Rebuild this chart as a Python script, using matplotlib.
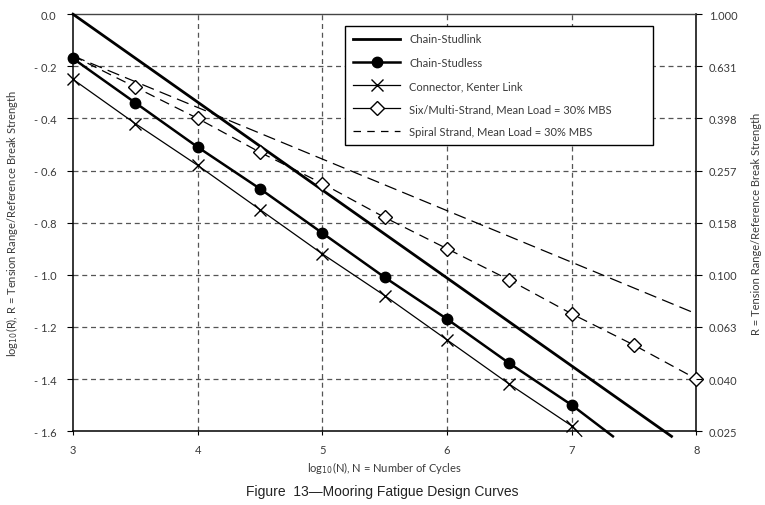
import matplotlib
matplotlib.use("Agg")
import matplotlib.pyplot as plt
from matplotlib.lines import Line2D

plt.rcParams['font.family'] = ['Lato', 'DejaVu Sans']

# ---- data ----
studlink_x = [3.0, 7.8]
studlink_y = [0.0, -1.62]

studless_x = [3.0, 3.5, 4.0, 4.5, 5.0, 5.5, 6.0, 6.5, 7.0]
studless_y = [-0.17, -0.34, -0.51, -0.67, -0.84, -1.01, -1.17, -1.34, -1.50]
studless_end = [7.33, -1.62]

kenter_x = [3.0, 3.5, 4.0, 4.5, 5.0, 5.5, 6.0, 6.5, 7.0]
kenter_y = [-0.25, -0.42, -0.58, -0.75, -0.92, -1.08, -1.25, -1.42, -1.58]
kenter_end = [7.08, -1.62]

multi_x = [3.5, 4.0, 4.5, 5.0, 5.5, 6.0, 6.5, 7.0, 7.5, 8.0]
multi_y = [-0.28, -0.40, -0.53, -0.65, -0.78, -0.90, -1.02, -1.15, -1.27, -1.40]
multi_start = [3.0, -0.16]

spiral_x = [3.0, 8.0]
spiral_y = [-0.16, -1.15]

left_ticks = [0.0, -0.2, -0.4, -0.6, -0.8, -1.0, -1.2, -1.4, -1.6]
left_labels = ["0.0", "- 0.2", "- 0.4", "- 0.6", "- 0.8", "- 1.0", "- 1.2", "- 1.4", "- 1.6"]
right_labels = ["1.000", "0.631", "0.398", "0.257", "0.158", "0.100", "0.063", "0.040", "0.025"]
x_ticks = [3, 4, 5, 6, 7, 8]

labels = ["Chain-Studlink", "Chain-Studless", "Connector, Kenter Link",
          "Six/Multi-Strand, Mean Load = 30% MBS", "Spiral Strand, Mean Load = 30% MBS"]

txt = '#3a3a3a'

fig = plt.figure(figsize=(7.65, 5.06), dpi=100)
ax = fig.add_axes([0.0954, 0.146, 0.815, 0.824])
ax.set_xlim(3, 8)
ax.set_ylim(-1.6, 0.0)

# grid
for x in x_ticks[1:-1]:
    ax.axvline(x, color='#555555', lw=0.9, ls=(0, (4, 3)), zorder=1)
for y in left_ticks[1:-1]:
    ax.axhline(y, color='#555555', lw=0.9, ls=(0, (4, 3)), zorder=1)

# curves
ax.plot(studlink_x, studlink_y, color='black', lw=2.0, clip_on=False, zorder=4)
ax.plot(studless_x + [studless_end[0]], studless_y + [studless_end[1]], color='black', lw=1.8,
        clip_on=False, zorder=4)
ax.plot(studless_x, studless_y, ls='none', marker='o', ms=7.5, color='black', clip_on=False, zorder=5)
ax.plot(kenter_x + [kenter_end[0]], kenter_y + [kenter_end[1]], color='black', lw=0.9,
        clip_on=False, zorder=4)
ax.plot(kenter_x, kenter_y, ls='none', marker='x', ms=9, mew=1.0, color='black', clip_on=False, zorder=5)
ax.plot([multi_start[0]] + multi_x, [multi_start[1]] + multi_y, color='black', lw=0.9,
        ls=(0, (8, 5)), zorder=3)
ax.plot(multi_x, multi_y, ls='none', marker='D', ms=7, mew=1.0, mfc='white', mec='black',
        clip_on=False, zorder=5)
ax.plot(spiral_x, spiral_y, color='black', lw=0.9, ls=(0, (10, 5)), zorder=3)

# axes styling
for s in ['left', 'right', 'bottom']:
    ax.spines[s].set_linewidth(1.1)
ax.spines['top'].set_linewidth(1.0)
ax.spines['top'].set_color('#444444')

ax.set_xticks(x_ticks)
ax.set_xticklabels([str(x) for x in x_ticks], color=txt, fontsize=8)
ax.set_yticks(left_ticks)
ax.set_yticklabels(left_labels, color=txt, fontsize=8)
ax.tick_params(axis='y', direction='out', length=4, width=0.8, pad=8)
ax.tick_params(axis='x', direction='out', length=3, width=0.8, pad=6)

ax2 = ax.twinx()
ax2.set_ylim(-1.6, 0.0)
ax2.set_yticks(left_ticks)
ax2.set_yticklabels(right_labels, color=txt, fontsize=8)
ax2.tick_params(axis='y', direction='out', length=4, width=0.8, pad=5)
for s in ax2.spines.values():
    s.set_visible(False)

ax.set_ylabel(r"log$_{10}$(R), R = Tension Range/Reference Break Strength", color=txt, fontsize=8,
              labelpad=10)
ax2.set_ylabel("R = Tension Range/Reference Break Strength", color=txt, fontsize=8, labelpad=10)
ax.set_xlabel(r"log$_{10}$(N), N = Number of Cycles", color=txt, fontsize=8, labelpad=3)

fig.text(0.5, 0.028, "Figure  13\u2014Mooring Fatigue Design Curves", ha='center', va='center',
         fontsize=10, family=['Liberation Sans', 'DejaVu Sans'], color='#222222')

# legend
handles = [
    Line2D([], [], color='black', lw=2.0),
    Line2D([], [], color='black', lw=1.8, marker='o', ms=7.5),
    Line2D([], [], color='black', lw=0.9, marker='x', ms=9, mew=1.0),
    Line2D([], [], color='black', lw=0.9, marker='D', ms=7, mfc='white', mec='black'),
    Line2D([], [], color='black', lw=0.9, ls=(0, (6, 5))),
]
leg = ax.legend(handles, labels, loc='upper left', bbox_to_anchor=(0.437, 0.686, 0.494, 0.285),
                mode='expand', fontsize=8, frameon=True, fancybox=False, edgecolor='black',
                framealpha=1, handlelength=4.3, labelspacing=1.1, borderpad=0.65,
                borderaxespad=0.0, handletextpad=0.8)
leg.get_frame().set_linewidth(1.0)
for t in leg.get_texts():
    t.set_color(txt)
leg.set_zorder(10)

fig.savefig("out.png", dpi=100)
